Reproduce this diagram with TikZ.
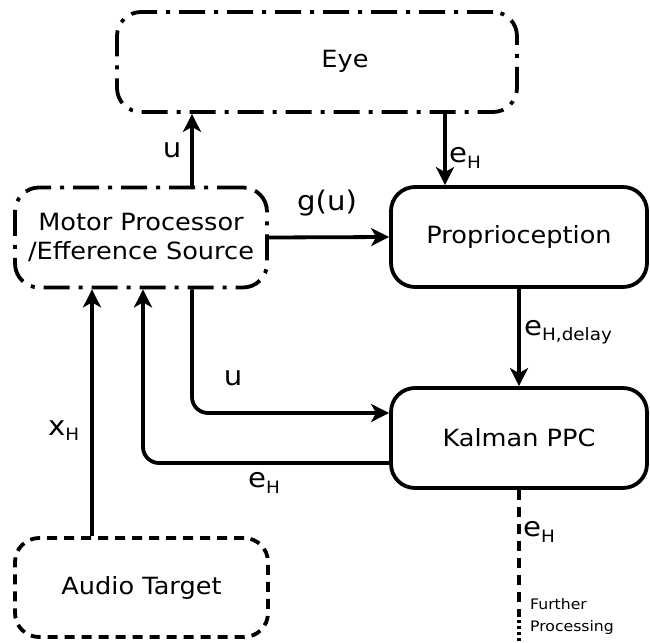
\documentclass[tikz,border=0pt]{standalone}
\usepackage{fontspec}
\setmainfont{DejaVu Sans}[FakeStretch=1.08]
\usetikzlibrary{arrows.meta,positioning}
\newcommand\sub[1]{\raisebox{-0.35ex}{\fontsize{17}{18}\selectfont #1}}
\begin{document}
\begin{tikzpicture}[x=1pt,y=-1pt,
  boxfont/.style={font=\fontsize{23.7}{29}\selectfont},
  box/.style={draw,line width=3.8pt,rounded corners=24pt,minimum width=#1,minimum height=100pt,
    boxfont,align=center,inner sep=0pt},
  dashdot/.style={dash pattern=on 26pt off 9pt on 4pt off 9pt},
  dashedbox/.style={dash pattern=on 10pt off 7pt},
  conn/.style={line width=3.8pt,rounded corners=16pt},
  arr/.style={conn,-{Stealth[length=18pt,width=18pt,inset=5pt]}},
  lbl/.style={font=\fontsize{27}{30}\selectfont,inner sep=0pt},
  small/.style={font=\fontsize{14.5}{22}\selectfont,inner sep=0pt,align=left}]
\useasboundingbox (0,0) rectangle (650,642);
\node[box=400pt,dashdot] (eye) at (317,62) {};
\node[boxfont,inner sep=0pt] (eyet) at (345,61) {Eye};
\node[box=252pt,dashdot] (motor) at (141,237.5) {Motor Processor\\/Efference Source};
\node[box=256pt] (prop) at (519,237) {Proprioception};
\node[box=256pt] (kal) at (519,438) {Kalman PPC};
\node[box=253pt,dashedbox,minimum height=99pt] (aud) at (141.5,587.5) {Audio Target};
% connectors
\draw[arr] ([xshift=51pt]motor.north) -- ([xshift=51pt]motor.north |- eye.south);
\draw[arr] ([xshift=128pt]eye.south) -- ([xshift=128pt]eye.south |- prop.north);
\draw[arr] (motor.east) -- (prop.west);
\draw[arr] (prop.south) -- (kal.north);
\draw[arr] ([xshift=51pt]motor.south) |- ([yshift=25pt]kal.west);
\draw[arr] ([yshift=-25pt]kal.west) -| ([xshift=2pt]motor.south);
\draw[arr] ([xshift=-49.5pt]aud.north) -- ([xshift=-49.5pt]aud.north |- motor.south);
\coordinate (fp) at (519,614);
\coordinate (end) at (519,642);
\draw[line width=3.8pt,dash pattern=on 10pt off 7pt] (kal.south) -- (fp);
\draw[line width=3.8pt,dash pattern=on 3pt off 3pt] (fp) -- (end);
% labels
\node[lbl] (l1) at (172,150) {u};
\node[lbl,anchor=west] (l2) at (449,158) {e\sub{H}};
\node[lbl] (l3) at (327,203) {g(u)};
\node[lbl,anchor=west] (l4) at (524,332) {e\sub{H,delay}};
\node[lbl] (l5) at (233,378) {u};
\node[lbl,anchor=west] (l6) at (248,483) {e\sub{H}};
\node[lbl,anchor=west] (l7) at (48,431) {x\sub{H}};
\node[lbl,anchor=west] (l8) at (523,532) {e\sub{H}};
\node[small,anchor=west] (l9) at (530,616) {Further\\Processing};
\end{tikzpicture}
\end{document}
